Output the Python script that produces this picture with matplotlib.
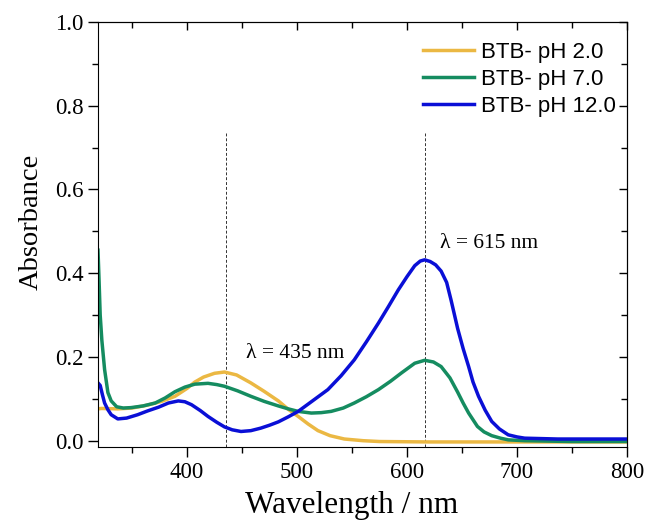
import matplotlib
matplotlib.use("Agg")
import matplotlib.pyplot as plt
from matplotlib.ticker import MultipleLocator

# absorbance spectra
wl_ph2 = [319, 322, 337, 350, 364, 377, 389, 400, 407, 415, 425, 434, 445, 458,
          470, 483, 492, 501, 510, 519, 530, 543, 560, 575, 620, 700, 800]
abs_ph2 = [0.076, 0.077, 0.076, 0.078, 0.085, 0.094, 0.106, 0.125, 0.140, 0.152,
           0.161, 0.164, 0.157, 0.138, 0.118, 0.095, 0.075, 0.058, 0.040, 0.024,
           0.012, 0.004, 0.000, -0.002, -0.003, -0.003, -0.003]

wl_ph7 = [319, 320, 321, 322.5, 325, 328, 331, 336, 342, 349, 360, 371, 380, 389,
          398, 407, 419, 427, 434, 446, 458, 470, 483, 492, 501, 513, 522, 531,
          542, 552, 563, 574, 585, 595, 607, 616, 624, 631, 639, 646, 651, 656,
          664, 670, 677, 685, 692, 707, 750, 800]
abs_ph7 = [0.455, 0.38, 0.30, 0.24, 0.17, 0.115, 0.095, 0.081, 0.078, 0.079,
           0.083, 0.090, 0.102, 0.117, 0.128, 0.135, 0.137, 0.134, 0.130, 0.119,
           0.106, 0.094, 0.083, 0.076, 0.070, 0.066, 0.067, 0.070, 0.078, 0.090,
           0.105, 0.122, 0.142, 0.162, 0.185, 0.192, 0.188, 0.177, 0.150, 0.116,
           0.090, 0.066, 0.034, 0.021, 0.012, 0.006, 0.002, 0.000, -0.002, -0.002]

wl_ph12 = [319, 321, 323, 325, 328, 331, 337, 345, 355, 364, 374, 383, 392, 398,
           404, 412, 419, 427, 434, 441, 449, 458, 467, 475, 483, 492, 501, 514,
           528, 540, 552, 563, 574, 583, 592, 600, 607, 612, 616, 621, 626, 631,
           636, 640, 646, 651, 656, 660, 665, 671, 677, 684, 692, 700, 707, 737, 800]
abs_ph12 = [0.138, 0.132, 0.110, 0.090, 0.074, 0.062, 0.052, 0.054, 0.062, 0.071,
            0.080, 0.090, 0.095, 0.093, 0.086, 0.072, 0.058, 0.044, 0.033, 0.026,
            0.022, 0.024, 0.030, 0.037, 0.045, 0.057, 0.070, 0.095, 0.122, 0.155,
            0.193, 0.236, 0.281, 0.320, 0.360, 0.392, 0.418, 0.429, 0.432, 0.428,
            0.420, 0.405, 0.378, 0.336, 0.268, 0.220, 0.177, 0.140, 0.106, 0.073,
            0.046, 0.028, 0.014, 0.009, 0.006, 0.004, 0.004]

labels = ["BTB- pH 2.0", "BTB- pH 7.0", "BTB- pH 12.0"]
colors = ["#EBB843", "#158C60", "#0A0FD6"]
peaks = [435, 616]

serif = "Liberation Serif"
plt.rcParams["font.family"] = serif

fig = plt.figure(figsize=(6.46, 5.24), dpi=100)
ax = fig.add_axes([0.1517, 0.147, 0.8189, 0.811])

for wl, a, lab, c in zip([wl_ph2, wl_ph7, wl_ph12], [abs_ph2, abs_ph7, abs_ph12],
                         labels, colors):
    ax.plot(wl, a, color=c, lw=2.5, label=lab)

for p in peaks:
    ax.plot([p, p], [-0.015, 0.735], color="#333333", lw=0.7, ls=(0, (3, 2)), zorder=1)

ax.text(454, 0.208, "λ = 435 nm", fontsize=15.5, va="center", ha="left")
ax.text(630, 0.47, "λ = 615 nm", fontsize=15.5, va="center", ha="left")

ax.set_xlim(319, 800)
ax.set_ylim(-0.015, 1.0)
ax.xaxis.set_major_locator(MultipleLocator(100))
ax.xaxis.set_minor_locator(MultipleLocator(50))
ax.yaxis.set_major_locator(MultipleLocator(0.2))
ax.yaxis.set_minor_locator(MultipleLocator(0.1))
ax.yaxis.set_major_formatter(plt.FormatStrFormatter("%.1f"))
ax.tick_params(which="both", direction="out", labelsize=16.5, width=1)
ax.tick_params(which="major", length=7)
ax.tick_params(which="minor", length=4)

# mirrored ticks pointing inward on top and right
top = ax.secondary_xaxis("top")
top.xaxis.set_major_locator(MultipleLocator(100))
top.xaxis.set_minor_locator(MultipleLocator(50))
top.tick_params(which="both", direction="in", labeltop=False, width=1)
top.tick_params(which="major", length=6)
top.tick_params(which="minor", length=4)
right = ax.secondary_yaxis("right")
right.yaxis.set_major_locator(MultipleLocator(0.2))
right.yaxis.set_minor_locator(MultipleLocator(0.1))
right.tick_params(which="both", direction="in", labelright=False, width=1)
right.tick_params(which="major", length=6)
right.tick_params(which="minor", length=4)

ax.set_xlabel("Wavelength / nm", fontsize=22.5)
ax.set_ylabel("Absorbance", fontsize=20.5)
ax.xaxis.set_label_coords(0.479, -0.103)
ax.yaxis.set_label_coords(-0.102, 0.53)

ax.legend(loc="upper right", frameon=False, prop={"family": "Liberation Sans", "size": 16},
          handlelength=2.3, handletextpad=0.3, labelspacing=0.28,
          borderaxespad=0.0, bbox_to_anchor=(0.995, 0.975))

fig.savefig("out.png", dpi=100)
